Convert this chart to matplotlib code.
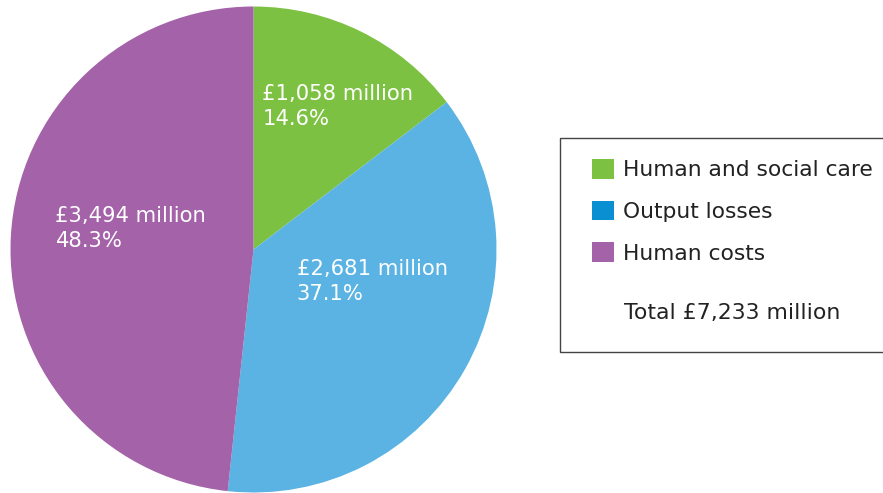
import matplotlib
matplotlib.use('Agg')
import matplotlib.pyplot as plt
from matplotlib.patches import Patch, Rectangle

# cost breakdown, £ million
categories = ['Human and social care', 'Output losses', 'Human costs']
values = [1058, 2681, 3494]
percents = [14.6, 37.1, 48.3]
total = 7233

pie_colors = ['#7dc142', '#5ab3e2', '#a462a8']
legend_colors = ['#7dc142', '#0a8fd3', '#a462a8']

# where each label block sits (pie axes coords, radius 1)
label_pos = [(0.037, 0.588), (0.177, -0.132), (-0.815, 0.086)]

fig = plt.figure(figsize=(8.83, 4.93), dpi=100)
ax = fig.add_axes([10.5 / 883, 0.5 / 493, 486 / 883, 486 / 493])
ax.pie(values, colors=pie_colors, startangle=90, counterclock=False,
       radius=1, wedgeprops={'linewidth': 0})
ax.set_xlim(-1, 1)
ax.set_ylim(-1, 1)
ax.set_aspect('auto')
ax.axis('off')

for v, p, (x, y) in zip(values, percents, label_pos):
    ax.text(x, y, '£{:,} million\n{:.1f}%'.format(v, p), color='white',
            fontsize=15.2, ha='left', va='center', linespacing=1.3)

# legend frame, runs off the right edge like the original
fig.patches.append(Rectangle((560 / 883, (493 - 352) / 493), 0.5, 214 / 493,
                             transform=fig.transFigure, fill=False,
                             edgecolor='#444444', linewidth=1))

handles = [Patch(facecolor=c, edgecolor='none') for c in legend_colors]
fig.legend(handles, categories, loc='upper left',
           bbox_to_anchor=(592 / 883, (493 - 159) / 493), frameon=False,
           fontsize=15.7, borderpad=0, borderaxespad=0, handlelength=1.0,
           handleheight=1.0, handletextpad=0.42, labelspacing=0.94,
           labelcolor='#222222')
fig.text(624 / 883, (493 - 313) / 493, 'Total £{:,} million'.format(total),
         fontsize=15.8, color='#222222', ha='left', va='center')

fig.savefig('out.png', dpi=100)
